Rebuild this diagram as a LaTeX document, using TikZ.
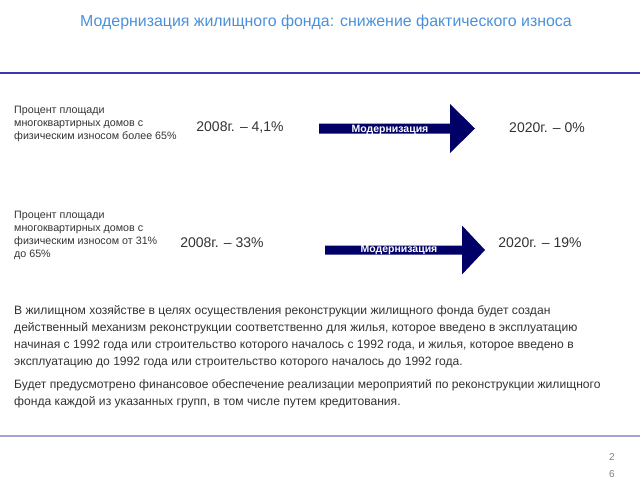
\documentclass[tikz,border=0pt]{standalone}
\usepackage{fontspec}
\setmainfont{Liberation Sans}
\definecolor{titleblue}{HTML}{4A90D9}
\definecolor{textgray}{HTML}{333333}
\definecolor{navyfill}{HTML}{000066}
\definecolor{ruleblue}{HTML}{3A3AB0}
\definecolor{rulelight}{HTML}{A4A4D4}
\begin{document}
\begin{tikzpicture}[x=1pt, y=-1pt,
  heading/.style={text=titleblue, inner sep=0pt, font=\fontsize{15.9}{17}\selectfont},
  caption/.style={anchor=north west, align=left, inner sep=0pt, text=textgray,
    font=\fontsize{10.7}{13}\selectfont},
  share/.style={text=textgray, inner sep=0pt, font=\fontsize{14}{17}\selectfont},
  modarrow/.style={fill=navyfill},
  arrowlabel/.style={text=white, inner sep=0pt, font=\bfseries\fontsize{10.5}{11}\selectfont},
  body/.style={anchor=north west, align=left, inner sep=0pt, text=textgray,
    font=\fontsize{12.1}{17}\selectfont},
  pagenum/.style={text=gray, align=center, inner sep=0pt, font=\fontsize{10}{17}\selectfont}
]
  % page frame (640 x 480)
  \useasboundingbox (0,0) rectangle (640,480);

  % title and rules
  \node[heading] (title) at (326,22) {Модернизация жилищного фонда: снижение фактического износа};
  \draw[ruleblue, line width=2pt] (0,73) -- (640,73);
  \draw[rulelight, line width=1.5pt] (0,436) -- (640,436);

  % first group: wear above 65%
  \node[caption] (area1) at (14,106) {Процент площади\\многоквартирных домов с\\физическим износом более 65\%};
  \node[share] (before1) at (240,128) {2008г. -- 4,1\%};
  \begin{scope}[shift={(319,128.5)}]
    \fill[modarrow] (0,-5) -- (131,-5) -- (131,-24.5) -- (156,0)
      -- (131,24.5) -- (131,5) -- (0,5) -- cycle;
  \end{scope}
  \node[arrowlabel] (mod1) at (390,130) {Модернизация};
  \node[share] (after1) at (547,128) {2020г. -- 0\%};

  % second group: wear from 31% to 65%
  \node[caption] (area2) at (14,211) {Процент площади\\многоквартирных домов с\\физическим износом от 31\%\\до 65\%};
  \node[share] (before2) at (222,243) {2008г. -- 33\%};
  \begin{scope}[shift={(325,250)}]
    \fill[modarrow] (0,-4.5) -- (137,-4.5) -- (137,-24.5) -- (160,0)
      -- (137,24.5) -- (137,4.5) -- (0,4.5) -- cycle;
  \end{scope}
  \node[arrowlabel] (mod2) at (399,250) {Модернизация};
  \node[share] (after2) at (540,243) {2020г. -- 19\%};

  % explanatory text
  \node[body] (text1) at (14,305) {В жилищном хозяйстве в целях осуществления реконструкции жилищного фонда будет создан\\
    действенный механизм реконструкции соответственно для жилья, которое введено в  эксплуатацию\\
    начиная с 1992 года или строительство которого началось с  1992 года, и жилья, которое введено в\\
    эксплуатацию до 1992 года или строительство которого началось до 1992 года.};
  \node[body] (text2) at (14,379) {Будет предусмотрено финансовое обеспечение реализации мероприятий по реконструкции жилищного\\
    фонда каждой из указанных групп, в том числе путем кредитования.};

  % page number
  \node[pagenum] (page) at (612,466) {2\\6};
\end{tikzpicture}
\end{document}
